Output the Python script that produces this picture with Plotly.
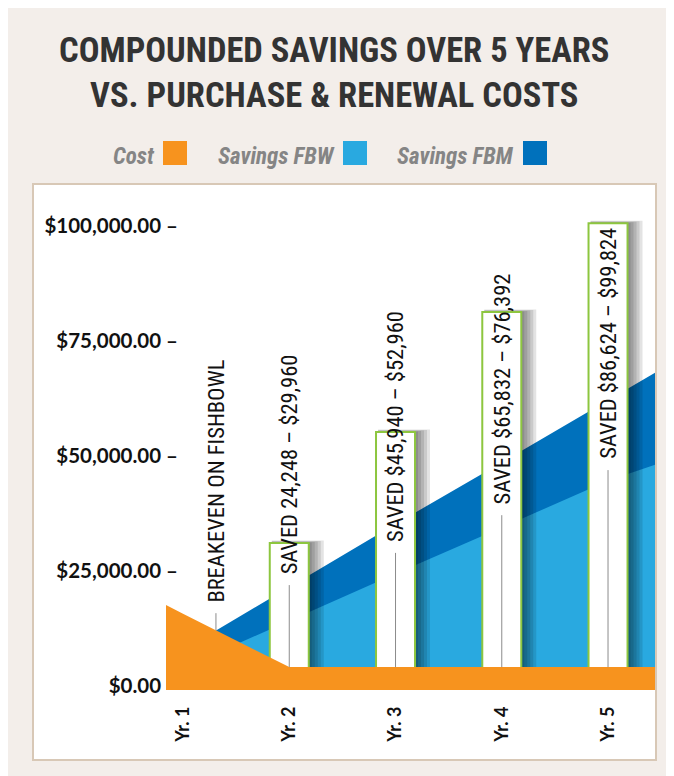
import plotly.graph_objects as go

# ---------------- data ----------------
year_labels = ["Yr. 1", "Yr. 2", "Yr. 3", "Yr. 4", "Yr. 5"]
year_pos = [1, 2, 3, 4, 5]

# area series sampled at the left edge, each year and the right edge
area_x = [0.84, 1, 2, 3, 4, 5, 5.442]
cost_values = [17500, 15600, 4000, 4000, 4000, 4000, 4000]
savings_fbw = [2200, 3850, 14100, 24300, 34350, 44500, 48000]
savings_fbm = [5500, 7700, 21400, 35100, 48500, 62000, 68000]

bar_years = [2, 3, 4, 5]
bar_tops = [31000, 55100, 81200, 100500]
bar_labels = ["SAVED 24,248 – $29,960", "SAVED $45,940 – $52,960",
              "SAVED $65,832 – $76,392", "SAVED $86,624 – $99,824"]
bar_label_base = [24000, 31000, 39200, 49000]

breakeven_x = 1.31
breakeven_value = 12000
breakeven_label = "BREAKEVEN ON FISHBOWL"
breakeven_label_base = 17900

y_tickvals = [0, 25000, 50000, 75000, 100000]
y_ticktext = ["$0.00<span style='color:rgba(0,0,0,0)'> –</span>",
              "$25,000.00 –", "$50,000.00 –", "$75,000.00 –", "$100,000.00 –"]

legend_names = ["Cost", "Savings FBW", "Savings FBM"]
title_text = "COMPOUNDED SAVINGS OVER 5 YEARS<br>VS. PURCHASE & RENEWAL COSTS"

# ---------------- style ----------------
ORANGE = "#F7931E"
LIGHT = "#29A9E0"
DARK = "#0071BC"
GREEN = "#8DC63F"
BEIGE = "#F3EEEA"
NARROW = "Liberation Sans Narrow, Roboto Condensed, DejaVu Sans Condensed, Arial Narrow, sans-serif"
BOLDF = "Lato, Liberation Sans, Arial, sans-serif"

W, H = 674, 776
OFF = 8  # page body margin (screen px -> figure px)
L, R, T, B = 158, 27, 176, 94
PW, PH = W - L - R, H - T - B
X_RANGE = [0.84, 5.442]
Y_RANGE = [-978, 109022]
XU = (X_RANGE[1] - X_RANGE[0]) / PW   # x units per pixel
YU = (Y_RANGE[1] - Y_RANGE[0]) / PH   # y units per pixel
Y_MIN = Y_RANGE[0]
BAR_HALF = 19.5 * XU


def px2x(px):
    return (px - OFF - L) / PW


def px2y(py):
    return (H - B - (py - OFF)) / PH


def cost_at(x):
    return cost_values[area_x.index(x)]


fig = go.Figure()

# savings areas (FBM total first, FBW on top)
fig.add_trace(go.Scatter(x=area_x, y=savings_fbm, mode="lines", line=dict(width=0),
                         fill="tozeroy", fillcolor=DARK, name=legend_names[2],
                         showlegend=False, hoverinfo="skip"))
fig.add_trace(go.Scatter(x=area_x, y=savings_fbw, mode="lines", line=dict(width=0),
                         fill="tozeroy", fillcolor=LIGHT, name=legend_names[1],
                         showlegend=False, hoverinfo="skip"))

# bar shadows
for k in range(1, 6):
    sx, sy = [], []
    for xc, top in zip(bar_years, bar_tops):
        x0 = xc - BAR_HALF + 2 * XU
        x1 = xc + BAR_HALF + 3 * k * XU
        yt = top + 0.5 * k * YU
        sx += [x0, x0, x1, x1, x0, None]
        sy += [Y_MIN, yt, yt, Y_MIN, Y_MIN, None]
    fig.add_trace(go.Scatter(x=sx, y=sy, mode="lines", line=dict(width=0),
                             fill="toself", fillcolor="rgba(0,0,0,0.11)",
                             showlegend=False, hoverinfo="skip"))

# white bars with green outline
bx, by = [], []
for xc, top in zip(bar_years, bar_tops):
    x0, x1 = xc - BAR_HALF, xc + BAR_HALF
    bx += [x0, x0, x1, x1, x0, None]
    by += [Y_MIN, top, top, Y_MIN, Y_MIN, None]
fig.add_trace(go.Scatter(x=bx, y=by, mode="lines", line=dict(color=GREEN, width=2),
                         fill="toself", fillcolor="white", showlegend=False, hoverinfo="skip"))

# cost area (orange), filled from the bottom of the axis
fig.add_trace(go.Scatter(x=area_x, y=[Y_MIN] * len(area_x), mode="lines",
                         line=dict(width=0), showlegend=False, hoverinfo="skip"))
fig.add_trace(go.Scatter(x=area_x, y=cost_values, mode="lines", line=dict(width=0),
                         fill="tonexty", fillcolor=ORANGE, name=legend_names[0],
                         showlegend=False, hoverinfo="skip"))

# leader lines
GAP = 10 * YU
lx, ly = [breakeven_x, breakeven_x, None], [breakeven_value, breakeven_label_base - GAP, None]
for xc, base in zip(bar_years, bar_label_base):
    lx += [xc, xc, None]
    ly += [cost_at(xc), base - GAP, None]
fig.add_trace(go.Scatter(x=lx, y=ly, mode="lines", line=dict(color="#8c8c8c", width=1),
                         showlegend=False, hoverinfo="skip"))

annotations = []
label_font = dict(family=NARROW, size=22.5, color="#111111")
annotations.append(dict(x=breakeven_x, y=breakeven_label_base, xref="x", yref="y",
                        text=breakeven_label, textangle=-90, showarrow=False,
                        xanchor="center", yanchor="bottom", font=label_font, borderpad=0))
for xc, base, txt in zip(bar_years, bar_label_base, bar_labels):
    annotations.append(dict(x=xc, y=base, xref="x", yref="y", text=txt, textangle=-90,
                            showarrow=False, xanchor="center", yanchor="bottom",
                            font=label_font, borderpad=0))

# title
annotations.append(dict(x=px2x(334), y=px2y(73), xref="paper", yref="paper",
                        text=title_text, showarrow=False, xanchor="center", yanchor="middle",
                        font=dict(family=NARROW, size=34.5, color="#333333", weight=700)))

# custom legend (text followed by swatch)
legend_text_right = [157, 337, 516]
legend_sw_left = [163, 343, 523]
legend_colors = [ORANGE, LIGHT, DARK]
legend_shapes = []
for name, tr, sl, col in zip(legend_names, legend_text_right, legend_sw_left, legend_colors):
    annotations.append(dict(x=px2x(tr), y=px2y(156), xref="paper", yref="paper", text=name,
                            showarrow=False, xanchor="right", yanchor="middle",
                            font=dict(family=NARROW, size=23, color="#858585",
                                      weight=700, style="italic")))
    legend_shapes.append(dict(type="rect", xref="paper", yref="paper", x0=px2x(sl),
                              x1=px2x(sl + 24), y0=px2y(165), y1=px2y(141), fillcolor=col,
                              line=dict(width=0), layer="above"))

# white panel with tan border behind the plot
shapes = [
    dict(type="rect", xref="paper", yref="paper", x0=px2x(33), x1=px2x(656), y0=px2y(760),
         y1=px2y(184), fillcolor="white", line=dict(color="#D8C8B6", width=2), layer="below"),
] + legend_shapes

fig.update_layout(
    width=W, height=H,
    margin=dict(l=L, r=R, t=T, b=B),
    paper_bgcolor=BEIGE, plot_bgcolor="rgba(0,0,0,0)",
    showlegend=False,
    annotations=annotations, shapes=shapes,
    xaxis=dict(range=X_RANGE, tickvals=year_pos, ticktext=year_labels, tickangle=-90,
               showgrid=False, zeroline=False, showline=False, ticks="",
               ticklabelstandoff=12,
               tickfont=dict(family=BOLDF, size=18, color="#111111", weight=700)),
    yaxis=dict(range=Y_RANGE, tickvals=y_tickvals, ticktext=y_ticktext,
               showgrid=False, zeroline=False, showline=False, ticks="",
               ticklabelstandoff=-13,
               tickfont=dict(family=BOLDF, size=20.5, color="#111111", weight=700)),
)

fig.write_html("out.html")
